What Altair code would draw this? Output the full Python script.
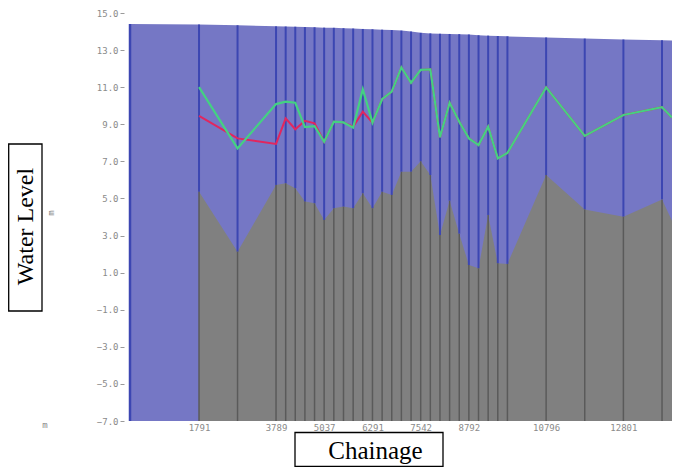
import altair as alt
import pandas as pd

# ---- data ----
CHAINAGE = [1791, 2790, 3789, 4039, 4288, 4538, 4788, 5037, 5288, 5539, 5790, 6040,
            6291, 6541, 6791, 7041, 7292, 7542, 7792, 8042, 8292, 8542, 8792, 9042,
            9292, 9542, 9792, 10796, 11798, 12801, 13803]
BED = [5.36, 2.13, 5.73, 5.82, 5.55, 4.83, 4.74, 3.84, 4.47, 4.56, 4.47, 5.28,
       4.47, 5.36, 5.19, 6.44, 6.44, 7.00, 6.26, 3.03, 4.88, 3.10, 1.41, 1.23,
       4.11, 1.50, 1.47, 6.26, 4.41, 4.02, 4.95]
WL_GREEN = [11.00, 7.70, 10.09, 10.22, 10.16, 8.85, 8.90, 8.06, 9.14, 9.10, 8.82, 10.89,
            9.09, 10.35, 10.76, 12.07, 11.24, 11.93, 11.96, 8.30, 10.16, 9.14, 8.24, 7.88,
            8.87, 7.16, 7.45, 10.99, 8.37, 9.50, 9.92]
WL_RED = [9.45, 8.24, 7.94, 9.32, 8.73, 9.19, 9.05, 8.06, 9.14, 9.10, 8.87, 9.68,
          9.09, 10.35, 10.76, 12.07, 11.24, 11.93, 11.96, 8.30, 10.16, 9.14, 8.24, 7.88,
          8.87, 7.16, 7.45, 10.99, 8.37, 9.50, 9.92]
BANK = [14.38, 14.34, 14.28, 14.27, 14.26, 14.24, 14.23, 14.21, 14.20, 14.18, 14.16, 14.14,
        14.12, 14.10, 14.08, 14.05, 14.00, 13.93, 13.90, 13.88, 13.87, 13.86, 13.84, 13.80,
        13.78, 13.76, 13.74, 13.68, 13.62, 13.57, 13.53]

# values at the left and right edges of the visible plot
X_START = 0
X_END = 14062
BANK_START = 14.41
BANK_END = 13.52
BED_END = 3.8
WL_END = 9.36
FLOOR = -7.0
Y_TOP = 15.0
Y_TICKS = [-7, -5, -3, -1, 1, 3, 5, 7, 9, 11, 13, 15]
X_TICKS = [1791, 3789, 5037, 6291, 7542, 8792, 10796, 12801]
TITLE_Y = "Water Level"
TITLE_X = "Chainage"
UNIT = "m"

# ---- tables ----
sections = pd.DataFrame({"chainage": CHAINAGE, "bed": BED, "bank": BANK, "floor": FLOOR})
bank_df = pd.DataFrame({"chainage": [X_START] + CHAINAGE + [X_END],
                        "bank": [BANK_START] + BANK + [BANK_END], "floor": FLOOR})
bed_df = pd.DataFrame({"chainage": CHAINAGE + [X_END], "bed": BED + [BED_END], "floor": FLOOR})
wl_df = pd.DataFrame({"chainage": CHAINAGE + [X_END],
                      "green": WL_GREEN + [WL_END], "red": WL_RED + [WL_END]})
edge_df = pd.DataFrame({"chainage": [X_START], "bank": [BANK_START], "floor": [FLOOR]})
label_df = pd.DataFrame({"ty": [TITLE_Y], "tx": [TITLE_X], "unit": [UNIT]})

LABEL_FONT = "DejaVu Sans Mono"
LABEL_COLOR = "#8a8a8a"

xs = alt.Scale(domain=[X_START, X_END], nice=False, zero=False)
ys = alt.Scale(domain=[FLOOR, Y_TOP], nice=False, zero=False)
xaxis = alt.Axis(values=X_TICKS, format="d", ticks=False, domain=False, grid=False,
                 labelPadding=2, labelFont=LABEL_FONT, labelFontSize=9,
                 labelColor=LABEL_COLOR, labelOverlap=False, labelFlush=False,
                 labelBaseline="top", title=None)
yaxis = alt.Axis(values=Y_TICKS, format=".1f", ticks=True, tickSize=4, tickColor="#9a9a9a",
                 tickWidth=1, domain=False, grid=False, offset=6, labelPadding=2,
                 labelFont=LABEL_FONT, labelFontSize=9, labelColor=LABEL_COLOR,
                 labelOverlap=False, labelFlush=False, title=None)


def X(field):
    return alt.X(f"{field}:Q", scale=xs, axis=xaxis)


def Y(field):
    return alt.Y(f"{field}:Q", scale=ys, axis=yaxis)


BLUE = "#7577c5"
BLUE_LINE = "#3c46b2"
GRAY = "#808080"
GRAY_LINE = "#5a5a5a"

blue_area = alt.Chart(bank_df).mark_area(color=BLUE, opacity=1).encode(
    x=X("chainage"), y=Y("bank"), y2="floor:Q")
gray_area = alt.Chart(bed_df).mark_area(color=GRAY, opacity=1).encode(
    x=X("chainage"), y=Y("bed"), y2="floor:Q")
edge_rule = alt.Chart(edge_df).mark_rule(color=BLUE_LINE, strokeWidth=2.5).encode(
    x=X("chainage"), y=Y("floor"), y2="bank:Q")
blue_rules = alt.Chart(sections).mark_rule(color=BLUE_LINE, strokeWidth=2).encode(
    x=X("chainage"), y=Y("bed"), y2="bank:Q")
gray_rules = alt.Chart(sections).mark_rule(color=GRAY_LINE, strokeWidth=1.5).encode(
    x=X("chainage"), y=Y("floor"), y2="bed:Q")
red_line = alt.Chart(wl_df).mark_line(color="#e2265e", strokeWidth=2).encode(
    x=X("chainage"), y=Y("red"))
green_line = alt.Chart(wl_df).mark_line(color="#44d182", strokeWidth=2.2).encode(
    x=X("chainage"), y=Y("green"))

box_y = alt.Chart(label_df).mark_rect(fill="white", stroke="black", strokeWidth=1.3).encode(
    x=alt.value(-121.3), x2=alt.value(-88), y=alt.value(131), y2=alt.value(298))
box_x = alt.Chart(label_df).mark_rect(fill="white", stroke="black", strokeWidth=1.3).encode(
    x=alt.value(165), x2=alt.value(313), y=alt.value(419.5), y2=alt.value(453.3))
text_y = alt.Chart(label_df).mark_text(font="Liberation Serif", fontSize=24, angle=270,
                                       align="center", baseline="alphabetic",
                                       color="black").encode(
    text="ty:N", x=alt.value(-97.5), y=alt.value(213.5))
text_x = alt.Chart(label_df).mark_text(font="Liberation Serif", fontSize=25,
                                       align="center", baseline="alphabetic",
                                       color="black").encode(
    text="tx:N", x=alt.value(245.5), y=alt.value(445.5))
unit_x = alt.Chart(label_df).mark_text(font=LABEL_FONT, fontSize=9, align="center",
                                       baseline="middle", color=LABEL_COLOR).encode(
    text="unit:N", x=alt.value(-85), y=alt.value(412))
unit_y = alt.Chart(label_df).mark_text(font=LABEL_FONT, fontSize=9, align="center",
                                       baseline="middle", angle=270, color=LABEL_COLOR).encode(
    text="unit:N", x=alt.value(-79), y=alt.value(200))

chart = alt.layer(
    blue_area, gray_area, edge_rule, blue_rules, gray_rules, red_line, green_line,
    box_y, box_x, text_y, text_x, unit_x, unit_y
).properties(
    width=542, height=408,
    autosize=alt.AutoSizeParams(type="none"),
    padding={"left": 122, "top": 5, "right": 0, "bottom": 46},
).configure(
    background="white",
    view=alt.ViewConfig(stroke=None, strokeWidth=0),
)

chart.save("out.html", embed_options={"renderer": "svg", "actions": False})
